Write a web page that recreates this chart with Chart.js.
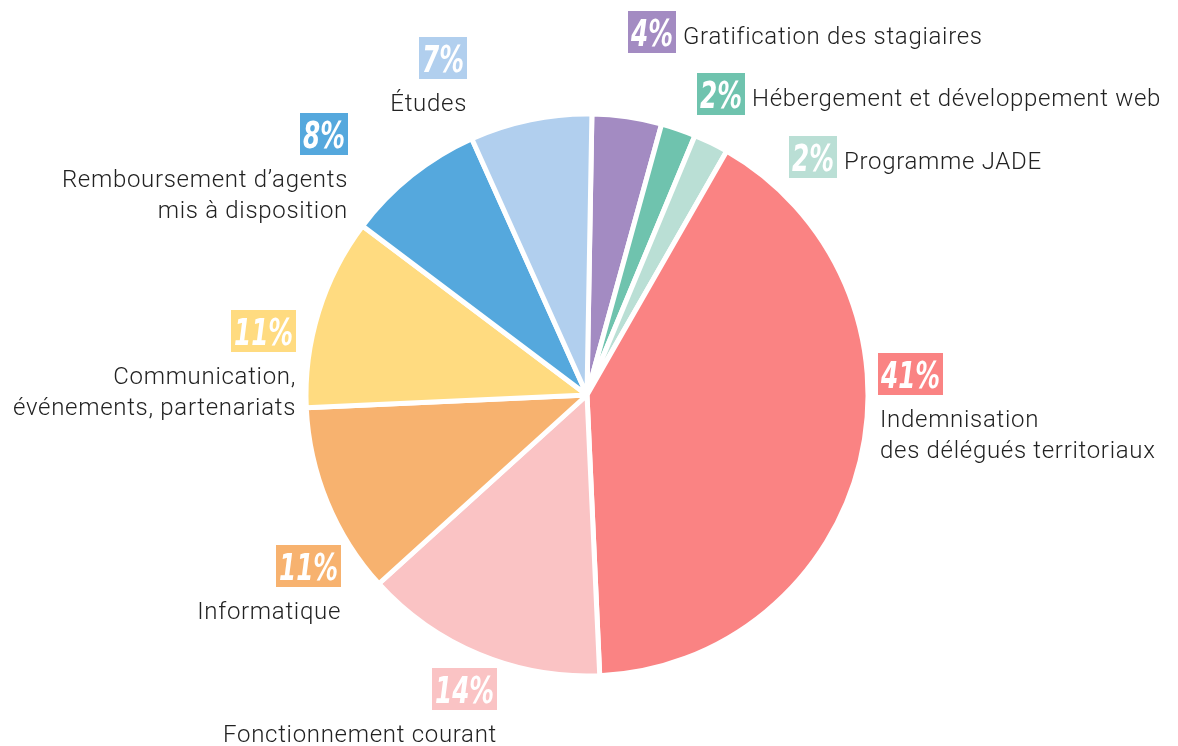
<!DOCTYPE html>
<html>
<head>
<meta charset="utf-8">
<script src="https://cdn.jsdelivr.net/npm/chart.js@4.4.1/dist/chart.umd.min.js"></script>
<style>
  html, body { margin: 0; padding: 0; background: #ffffff; }
  #wrap { width: 1178px; height: 746px; position: relative; }
</style>
</head>
<body>
<div id="wrap"><canvas id="budget" width="1178" height="746"></canvas></div>
<script>
// Budget breakdown, clockwise from the top
const categories = [
  ["Gratification des stagiaires"],
  ["Hébergement et développement web"],
  ["Programme JADE"],
  ["Indemnisation", "des délégués territoriaux"],
  ["Fonctionnement courant"],
  ["Informatique"],
  ["Communication,", "événements, partenariats"],
  ["Remboursement d’agents", "mis à disposition"],
  ["Études"]
];
const shares = [4, 2, 2, 41, 14, 11, 11, 8, 7];
const sliceColors = [
  "#a38bc2", "#6fc3ae", "#badfd5", "#fa8383", "#fac3c4",
  "#f7b26f", "#ffdb80", "#55a8dd", "#b1cfee"
];

// Where each label sits relative to the pie centre:
// dx/dy = corner of the percentage box, side = which side the box grows from,
// inline = text on the same line as the box, otherwise stacked below it.
const labelLayout = [
  { dx: 41,   dy: -384, side: "left",  inline: true },
  { dx: 110,  dy: -322, side: "left",  inline: true },
  { dx: 202,  dy: -259, side: "left",  inline: true },
  { dx: 291,  dy: -42,  side: "left",  inline: false },
  { dx: -90,  dy: 273,  side: "right", inline: false },
  { dx: -246, dy: 150,  side: "right", inline: false },
  { dx: -291, dy: -85,  side: "right", inline: false },
  { dx: -239, dy: -282, side: "right", inline: false },
  { dx: -120, dy: -358, side: "right", inline: false }
];

const PCT_FONT = "italic bold 38px 'Liberation Sans Narrow', 'DejaVu Sans', sans-serif";
const TEXT_FONT = "300 24px Roboto, 'Open Sans', sans-serif";
const BOX_H = 42;
const SQUEEZE = 0.65;

const pieLabels = {
  id: "pieLabels",
  afterDatasetsDraw(chart) {
    const ctx = chart.ctx;
    const meta = chart.getDatasetMeta(0);
    const cx = meta.data[0].x;
    const cy = meta.data[0].y;
    const ds = chart.data.datasets[0];
    ctx.save();
    meta.data.forEach((arc, i) => {
      const lay = labelLayout[i];
      const pct = ds.data[i] + "%";
      ctx.font = PCT_FONT;
      ctx.letterSpacing = "0px";
      const tw = ctx.measureText(pct).width * SQUEEZE;
      const boxW = Math.round(tw + 6);
      const top = cy + lay.dy;
      const left = lay.side === "left" ? cx + lay.dx : cx + lay.dx - boxW;
      ctx.fillStyle = ds.backgroundColor[i];
      ctx.fillRect(left, top, boxW, BOX_H);
      ctx.save();
      ctx.translate(left + boxW / 2, top + 35);
      ctx.scale(SQUEEZE, 1);
      ctx.fillStyle = "#ffffff";
      ctx.textAlign = "center";
      ctx.textBaseline = "alphabetic";
      ctx.fillText(pct, 0, 0);
      ctx.restore();

      ctx.font = TEXT_FONT;
      ctx.letterSpacing = "0.7px";
      ctx.fillStyle = "#222222";
      ctx.textBaseline = "alphabetic";
      const lines = chart.data.labels[i];
      if (lay.inline) {
        ctx.textAlign = "left";
        ctx.fillText(lines.join(" "), left + boxW + 7, top + 33);
      } else {
        ctx.textAlign = lay.side === "left" ? "left" : "right";
        const tx = lay.side === "left" ? left + 2 : left + boxW;
        lines.forEach((ln, k) => {
          ctx.fillText(ln, tx, top + BOX_H + 32 + k * 31);
        });
      }
    });
    ctx.restore();
  }
};

new Chart(document.getElementById("budget"), {
  type: "pie",
  data: {
    labels: categories,
    datasets: [{
      data: shares,
      backgroundColor: sliceColors,
      borderColor: "#ffffff",
      borderWidth: 5,
      hoverOffset: 0
    }]
  },
  options: {
    responsive: false,
    animation: false,
    rotation: 1,
    radius: 281,
    layout: { padding: { left: 0, right: 4, top: 44, bottom: 0 } },
    plugins: {
      legend: { display: false },
      tooltip: { enabled: false }
    }
  },
  plugins: [pieLabels]
});
</script>
</body>
</html>
